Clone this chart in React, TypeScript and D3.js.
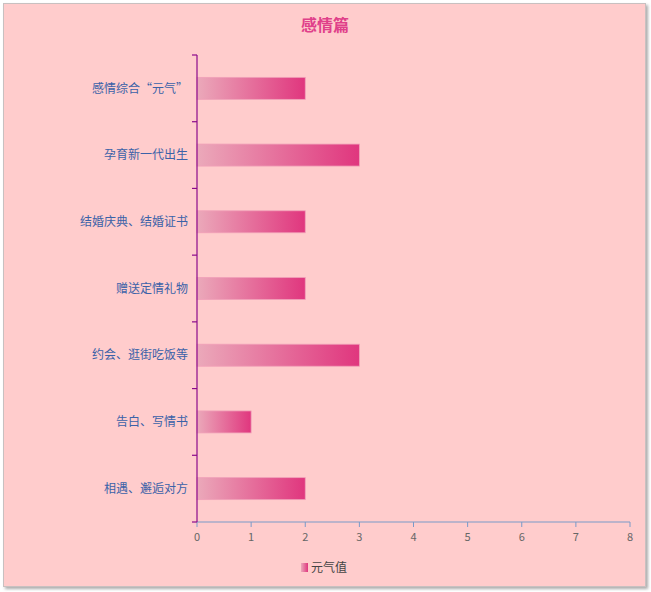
import React, { useEffect, useRef } from "react";
import * as d3 from "d3";

const categories = ["感情综合“元气”", "孕育新一代出生", "结婚庆典、结婚证书", "赠送定情礼物", "约会、逛街吃饭等", "告白、写情书", "相遇、邂逅对方"];
const values = [2, 3, 2, 2, 3, 1, 2];
const xTicks = [0, 1, 2, 3, 4, 5, 6, 7, 8];
const title = "感情篇";
const seriesName = "元气值";

const W = 651, H = 592;
const FONT = "'Noto Sans CJK SC', 'DejaVu Sans', sans-serif";

export default function App() {
  const ref = useRef<SVGSVGElement>(null);
  useEffect(() => {
    const svg = d3.select(ref.current);
    svg.selectAll("*").remove();
    const defs = svg.append("defs");
    const grad = defs.append("linearGradient").attr("id", "barGrad").attr("x1", "0%").attr("x2", "100%").attr("y1", "0%").attr("y2", "0%");
    grad.append("stop").attr("offset", "0%").attr("stop-color", "#EBA9BA");
    grad.append("stop").attr("offset", "100%").attr("stop-color", "#E0367E");
    const sh = defs.append("filter").attr("id", "shadow").attr("x", "-5%").attr("y", "-5%").attr("width", "110%").attr("height", "110%");
    sh.append("feDropShadow").attr("dx", 2).attr("dy", 2).attr("stdDeviation", 1.5).attr("flood-color", "#888").attr("flood-opacity", 0.7);

    // panel
    svg.append("rect").attr("x", 3.5).attr("y", 3.5).attr("width", 642).attr("height", 583)
      .attr("fill", "#FFCCCC").attr("stroke", "#C8C0C0").attr("stroke-width", 1).attr("filter", "url(#shadow)");

    const left = 197, right = 630, top = 55, bottom = 522;
    const x = d3.scaleLinear().domain([0, 8]).range([left, right]);
    const y = d3.scaleBand().domain(categories).range([top, bottom]);

    svg.append("text").attr("x", 325).attr("y", 31).attr("text-anchor", "middle")
      .attr("font-family", FONT).attr("font-size", 16).attr("font-weight", "bold").attr("fill", "#E0408A").text(title);

    // bars
    const bh = 22;
    svg.append("g").selectAll("rect").data(categories).join("rect")
      .attr("x", x(0)).attr("y", (d) => (y(d) as number) + y.bandwidth() / 2 - bh / 2)
      .attr("width", (d, i) => x(values[i]) - x(0)).attr("height", bh)
      .attr("fill", "url(#barGrad)").attr("stroke", "#F0A0B8").attr("stroke-width", 0.8);

    // x axis
    const xg = svg.append("g").attr("transform", `translate(0,${bottom})`);
    xg.append("line").attr("x1", left).attr("x2", right).attr("stroke", "#7A9AC8").attr("stroke-width", 1.2);
    xg.selectAll("line.t").data(xTicks).join("line").attr("class", "t")
      .attr("x1", (d) => x(d)).attr("x2", (d) => x(d)).attr("y1", 0).attr("y2", 5).attr("stroke", "#7A9AC8");
    xg.selectAll("text").data(xTicks).join("text")
      .attr("x", (d) => x(d)).attr("y", 19).attr("text-anchor", "middle")
      .attr("font-family", FONT).attr("font-size", 11).attr("fill", "#666").text((d) => String(d));

    // y axis
    const yg = svg.append("g");
    yg.append("line").attr("x1", left).attr("x2", left).attr("y1", top).attr("y2", bottom).attr("stroke", "#8B0A8B").attr("stroke-width", 1.2);
    const tickYs = categories.map((c) => y(c) as number).concat([bottom]);
    yg.selectAll("line.t").data(tickYs).join("line").attr("class", "t")
      .attr("x1", left - 5).attr("x2", left).attr("y1", (d) => d).attr("y2", (d) => d).attr("stroke", "#8B0A8B").attr("stroke-width", 1.2);
    yg.selectAll("text").data(categories).join("text")
      .attr("x", left - 9).attr("y", (d) => (y(d) as number) + y.bandwidth() / 2).attr("dy", "0.35em")
      .attr("text-anchor", "end").attr("font-family", FONT).attr("font-size", 12).attr("fill", "#3B62A8").text((d) => d);

    // legend
    const lg = svg.append("g").attr("transform", "translate(301,563)");
    lg.append("rect").attr("x", 0).attr("y", 0).attr("width", 7).attr("height", 9).attr("fill", "url(#barGrad)");
    lg.append("text").attr("x", 10).attr("y", 4.5).attr("dy", "0.35em").attr("font-family", FONT).attr("font-size", 12).attr("fill", "#444").text(seriesName);
  }, []);
  return (
    <svg ref={ref} width={W} height={H} style={{ position: "absolute", left: 0, top: 0, display: "block" }} />
  );
}
